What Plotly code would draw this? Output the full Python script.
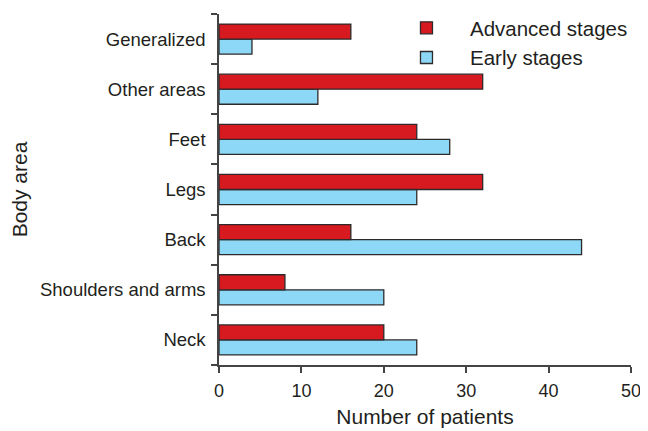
import plotly.graph_objects as go

categories = ["Neck", "Shoulders and arms", "Back", "Legs", "Feet", "Other areas", "Generalized"]
advanced = [20, 8, 16, 32, 24, 32, 16]
early = [24, 20, 44, 24, 28, 12, 4]
x_ticks = [0, 10, 20, 30, 40, 50]

RED = "#D71920"
BLUE = "#8DD8F6"
EDGE = "#2E2A2B"
AX = "#444444"
TXT = "#231F20"

fig = go.Figure()
fig.add_trace(go.Bar(y=categories, x=early, orientation="h", name="Early stages",
                     marker=dict(color=BLUE, line=dict(color=EDGE, width=1.3))))
fig.add_trace(go.Bar(y=categories, x=advanced, orientation="h", name="Advanced stages",
                     marker=dict(color=RED, line=dict(color=EDGE, width=1.3))))

font = "Liberation Sans, Arial, sans-serif"
# page body adds an 8px offset; figure sized so the plot lands where the reference has it
fig.update_layout(
    width=640, height=423,
    margin=dict(l=211, r=17, t=6, b=66, autoexpand=False),
    paper_bgcolor="white", plot_bgcolor="white",
    barmode="group", bargap=0.4, bargroupgap=0,
    font=dict(family=font, size=18, color=TXT),
    legend=dict(x=0.398, y=1.0, xanchor="left", yanchor="top", yref="container",
                traceorder="reversed",
                font=dict(size=20.5, color=TXT), bgcolor="rgba(0,0,0,0)",
                itemwidth=77, tracegroupgap=0),
    showlegend=True,
)
fig.update_xaxes(range=[0, 50], tickvals=x_ticks, showgrid=False, zeroline=False,
                 showline=True, linecolor=AX, linewidth=1.5, automargin=False,
                 ticks="outside", ticklen=6, tickcolor=AX, tickwidth=1.5,
                 tickfont=dict(size=18), ticklabelstandoff=3,
                 title=dict(text="Number of patients", font=dict(size=21), standoff=9))
fig.update_yaxes(categoryorder="array", categoryarray=categories, showgrid=False,
                 showline=True, linecolor=AX, linewidth=1.5, automargin=False,
                 ticks="outside", ticklen=6, tickcolor=AX, tickwidth=1.5, tickson="boundaries",
                 tickfont=dict(size=18.5), ticklabelstandoff=8,
                 title=dict(text="Body area", font=dict(size=21), standoff=11))

fig.write_html("out.html")
